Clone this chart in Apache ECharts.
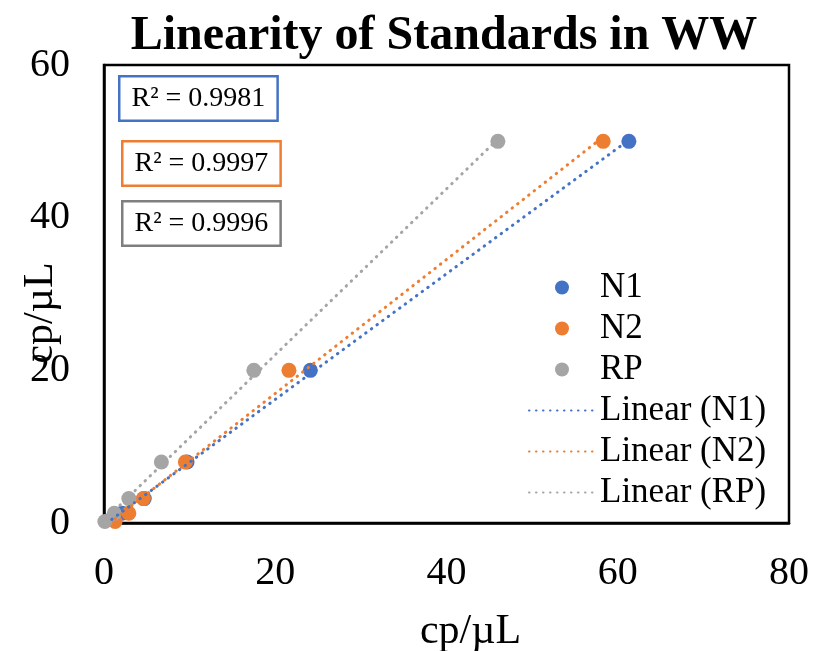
<!DOCTYPE html>
<html>
<head>
<meta charset="utf-8">
<script src="https://cdn.jsdelivr.net/npm/echarts@6/dist/echarts.min.js"></script>
<style>html,body{margin:0;padding:0;background:#fff}#c{width:815px;height:651px}</style>
</head>
<body>
<div id="c"></div>
<script>
// ---- data ----
const seriesNames = ['N1', 'N2', 'RP'];
const n1X = [0.9, 2.1, 4.7, 9.7, 24.1, 61.3];
const n1Y = [0.5, 1.28, 3.2, 8, 20, 50];
const n2X = [1.3, 2.9, 4.6, 9.5, 21.6, 58.3];
const n2Y = [0.2, 1.28, 3.2, 8, 20, 50];
const rpX = [0.1, 1.2, 2.9, 6.7, 17.5, 46.0];
const rpY = [0.2, 1.28, 3.2, 8, 20, 50];
const r2Labels = ['R² = 0.9981', 'R² = 0.9997', 'R² = 0.9996'];
const xTicks = [0, 20, 40, 60, 80];
const yTicks = [0, 20, 40, 60];
const titleText = 'Linearity of Standards in WW';
const axisTitle = 'cp/µL';

const colors = ['#4472C4', '#ED7D31', '#A5A5A5'];
const boxColors = ['#4472C4', '#ED7D31', '#7F7F7F'];
const FONT = "'Liberation Serif', 'Times New Roman', serif";

function pairs(xs, ys) { return xs.map((x, i) => [x, ys[i]]); }
function fit(xs, ys) {
  const n = xs.length;
  const mx = xs.reduce((a, b) => a + b, 0) / n;
  const my = ys.reduce((a, b) => a + b, 0) / n;
  let sxy = 0, sxx = 0;
  for (let i = 0; i < n; i++) { sxy += (xs[i] - mx) * (ys[i] - my); sxx += (xs[i] - mx) ** 2; }
  const b = sxy / sxx, a = my - b * mx;
  const x0 = Math.min(...xs), x1 = Math.max(...xs);
  return [[x0, a + b * x0], [x1, a + b * x1]];
}

const xsAll = [n1X, n2X, rpX];
const ysAll = [n1Y, n2Y, rpY];

const series = [];
seriesNames.forEach((nm, i) => {
  series.push({
    name: nm, type: 'scatter', symbol: 'circle', symbolSize: 15,
    itemStyle: { color: colors[i], opacity: 1 },
    data: pairs(xsAll[i], ysAll[i]), z: 2
  });
});
seriesNames.forEach((nm, i) => {
  series.push({
    name: 'Linear (' + nm + ')', type: 'line', symbol: 'none', showSymbol: false,
    lineStyle: { color: colors[i], width: 3, type: [0.5, 6.5], cap: 'round' },
    itemStyle: { color: colors[i] },
    data: fit(xsAll[i], ysAll[i]), z: 3, silent: true
  });
});

const boxPos = [[118, 75], [121, 140], [121, 200]];
const graphics = r2Labels.map((t, i) => ({
  type: 'text', left: boxPos[i][0], top: boxPos[i][1], z: 10,
  style: {
    text: t, font: '28px ' + FONT, fill: '#000',
    backgroundColor: '#fff', borderColor: boxColors[i], borderWidth: 2.5,
    padding: [7, 11, 7, 11]
  }
}));

const chart = echarts.init(document.getElementById('c'), null, { renderer: 'canvas' });
chart.setOption({
  animation: false,
  backgroundColor: '#fff',
  title: {
    text: titleText, left: 439, top: 8, textAlign: 'center',
    textStyle: { fontFamily: FONT, fontSize: 48, fontWeight: 'bold', color: '#000' }
  },
  grid: { left: 104, right: 26, top: 65, bottom: 128, show: true, borderColor: '#000', borderWidth: 2.5, containLabel: false, outerBoundsMode: 'none' },
  legend: {
    orient: 'vertical', left: 523, top: 265,
    itemWidth: 66, itemHeight: 14, itemGap: 6, itemTextGap: 15,
    textStyle: { fontFamily: FONT, fontSize: 35, lineHeight: 35, color: '#000' },
    data: [
      { name: 'N1', icon: 'circle' }, { name: 'N2', icon: 'circle' }, { name: 'RP', icon: 'circle' },
      { name: 'Linear (N1)', itemStyle: { opacity: 0 } },
      { name: 'Linear (N2)', itemStyle: { opacity: 0 } },
      { name: 'Linear (RP)', itemStyle: { opacity: 0 } }
    ]
  },
  xAxis: {
    type: 'value', min: xTicks[0], max: xTicks[xTicks.length - 1], interval: xTicks[1] - xTicks[0],
    axisLine: { show: true, lineStyle: { color: '#000', width: 2.5 } },
    axisTick: { show: false }, splitLine: { show: false },
    axisLabel: { fontFamily: FONT, fontSize: 40, color: '#000', margin: 30 },
    name: axisTitle, nameLocation: 'middle', nameGap: 88, nameMoveOverlap: false,
    nameTextStyle: { fontFamily: FONT, fontSize: 42, color: '#000', padding: [0, 0, 0, 48] }
  },
  yAxis: {
    type: 'value', min: yTicks[0], max: yTicks[yTicks.length - 1], interval: yTicks[1] - yTicks[0],
    axisLine: { show: true, lineStyle: { color: '#000', width: 2.5 } },
    axisTick: { show: false }, splitLine: { show: false },
    axisLabel: { fontFamily: FONT, fontSize: 40, color: '#000', margin: 34 },
    name: axisTitle, nameLocation: 'middle', nameGap: 42, nameMoveOverlap: false,
    nameTextStyle: { fontFamily: FONT, fontSize: 42, color: '#000', padding: [0, 38, 0, 0] }
  },
  graphic: graphics,
  series: series
});
</script>
</body>
</html>
